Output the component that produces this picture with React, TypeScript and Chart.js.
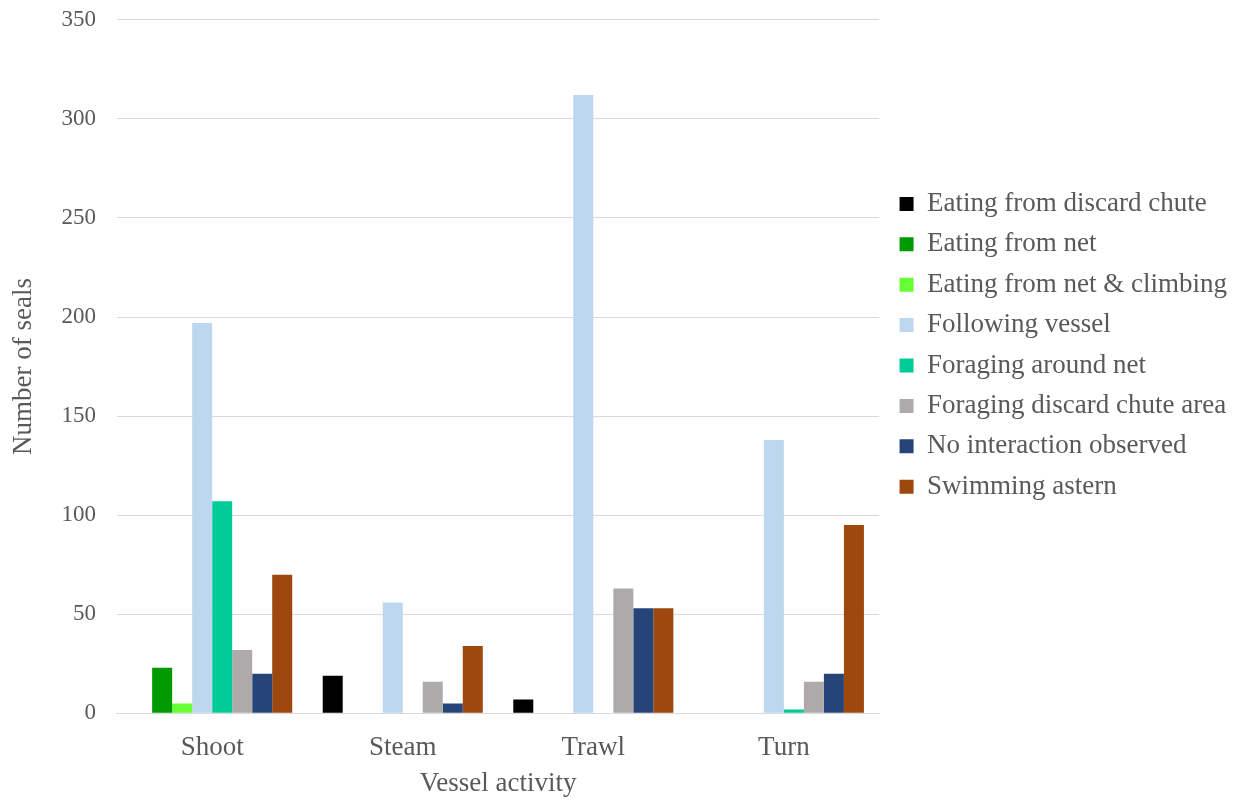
import React, { useEffect, useRef } from "react";
import { Chart, registerables } from "chart.js";
Chart.register(...registerables);

const categories = ["Shoot", "Steam", "Trawl", "Turn"];
const seriesNames = [
  "Eating from discard chute",
  "Eating from net",
  "Eating from net & climbing",
  "Following vessel",
  "Foraging around net",
  "Foraging discard chute area",
  "No interaction observed",
  "Swimming astern",
];
const eatingDiscard = [0, 19, 7, 0];
const eatingNet = [23, 0, 0, 0];
const eatingNetClimbing = [5, 0, 0, 0];
const followingVessel = [197, 56, 312, 138];
const foragingNet = [107, 0, 0, 2];
const foragingDiscard = [32, 16, 63, 16];
const noInteraction = [20, 5, 53, 20];
const swimmingAstern = [70, 34, 53, 95];
const seriesColors = ["#000000", "#009900", "#66ff33", "#bdd7ee", "#00cc99", "#aeaaaa", "#264478", "#9e480e"];
const yTicks = [0, 50, 100, 150, 200, 250, 300, 350];

const LEGEND_GAP = 7;

const legendGapPlugin = {
  id: "legendGap",
  afterInit(chart: any) {
    const lg = chart.legend;
    if (!lg) return;
    const origFit = lg.fit.bind(lg);
    lg.fit = () => {
      origFit();
      lg.width += LEGEND_GAP;
    };
    const origDraw = lg.draw.bind(lg);
    lg.draw = (...args: any[]) => {
      const ctx = chart.ctx;
      ctx.save();
      ctx.translate(LEGEND_GAP, 0);
      origDraw(...args);
      ctx.restore();
    };
  },
};

export default function App() {
  const ref = useRef<HTMLCanvasElement>(null);
  useEffect(() => {
    const values = [eatingDiscard, eatingNet, eatingNetClimbing, followingVessel, foragingNet, foragingDiscard, noInteraction, swimmingAstern];
    const family = "'Liberation Serif', 'Times New Roman', serif";
    const bigFont = { family, size: 27 };
    const titleFont = { family, size: 27, lineHeight: 0.75 };
    const tickFont = { family, size: 23 };
    const chart = new Chart(ref.current!, {
      type: "bar",
      data: {
        labels: categories,
        datasets: seriesNames.map((name, i) => ({
          label: name,
          data: values[i],
          backgroundColor: seriesColors[i],
          borderWidth: 0,
          categoryPercentage: 0.84,
          barPercentage: 1,
        })),
      },
      plugins: [legendGapPlugin],
      options: {
        animation: false,
        responsive: false,
        maintainAspectRatio: false,
        layout: { padding: { left: 8, right: 10, top: 1, bottom: 7 } },
        plugins: {
          tooltip: { enabled: false },
          legend: {
            position: "right",
            align: "start",
            maxWidth: 420,
            title: { display: true, text: " ", font: { family, size: 10 }, padding: { top: 0, bottom: 164 } },
            labels: {
              color: "#595959",
              font: bigFont,
              boxWidth: 14,
              boxHeight: 14,
              padding: 13.4,
            },
          },
        },
        scales: {
          x: {
            grid: { display: false },
            border: { color: "#d9d9d9", width: 1 },
            ticks: { color: "#595959", font: bigFont, padding: 10 },
            title: { display: true, text: "Vessel activity", color: "#595959", font: titleFont, padding: { top: 0, bottom: 0 } },
          },
          y: {
            min: 0,
            max: 350,
            afterBuildTicks: (axis: any) => {
              axis.ticks = yTicks.map((v) => ({ value: v }));
            },
            grid: { color: "#d9d9d9", drawTicks: true, tickLength: 15, tickColor: "rgba(0,0,0,0)" },
            border: { display: false },
            ticks: { color: "#595959", font: tickFont, padding: 6 },
            title: { display: true, text: "Number of seals", color: "#595959", font: bigFont, padding: { top: 0, bottom: 15 } },
          },
        },
      },
    });
    return () => chart.destroy();
  }, []);
  return (
    <div style={{ position: "fixed", left: 0, top: 0, width: 1247, height: 801, background: "#fff" }}>
      <canvas ref={ref} width={1247} height={801} style={{ width: 1247, height: 801 }} />
    </div>
  );
}
